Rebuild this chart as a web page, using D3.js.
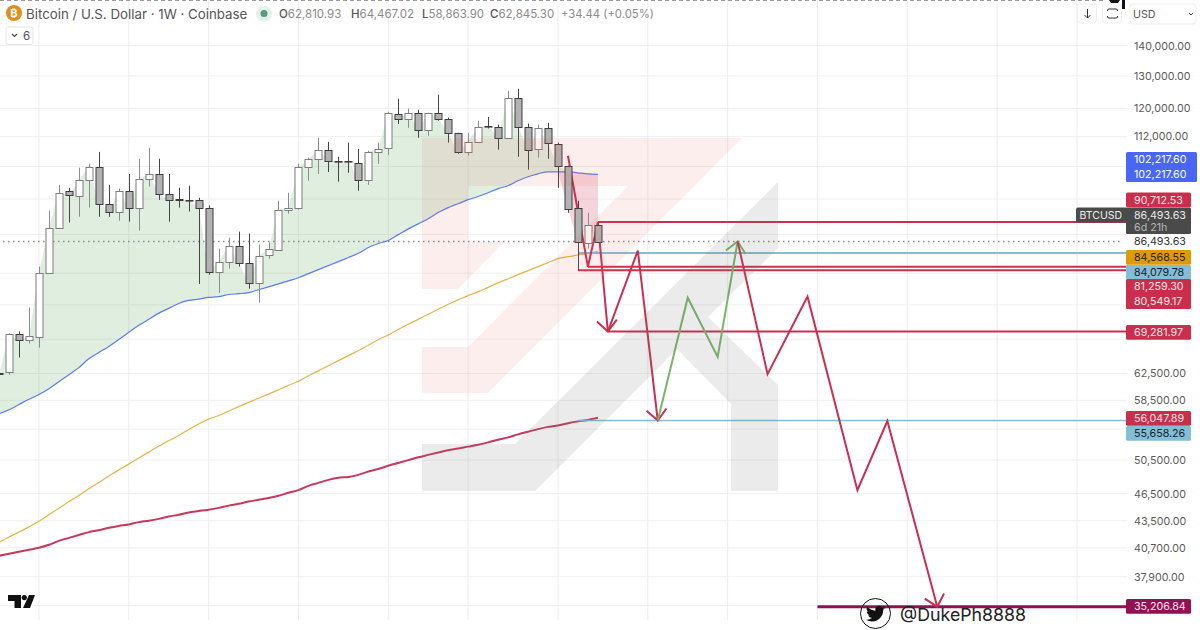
<!DOCTYPE html>
<html>
<head>
<meta charset="utf-8">
<script src="https://cdn.jsdelivr.net/npm/d3@7"></script>
<style>
  html, body { margin: 0; padding: 0; background: #fff; }
  svg { display: block; }
  text { font-family: Inter, "Noto Sans", sans-serif; }
</style>
</head>
<body>
<svg id="chart"></svg>
<script>
// weekly candles, first one is mostly cut off by the left edge
var opens = [62500, 62600, 68800, 67800, 68500, 80100, 89500, 97800, 96800, 100600, 103900, 94900, 93100, 98000, 94000, 100900, 102100, 97300, 96100, 95800, 95800, 94000, 80300, 82300, 85600, 82100, 78100, 83500, 84800, 93500, 94000, 103900, 106000, 108400, 105500, 105450, 105000, 100600, 107800, 108900, 118400, 117000, 118700, 113900, 118700, 117000, 113000, 107800, 110500, 115000, 114700, 111600, 123200, 114700, 108400, 114200, 110000, 104200, 93800, 86300, 90100];
var highs = [63000, 69000, 69300, 73500, 81300, 93300, 99400, 98700, 103700, 104700, 107800, 99400, 98500, 102100, 106000, 108900, 106000, 102100, 98700, 99200, 96300, 94500, 85000, 87300, 88600, 88200, 85800, 86300, 95600, 97500, 104700, 106300, 111600, 110500, 106500, 110300, 108600, 108100, 110300, 119000, 122900, 119900, 119600, 118700, 124100, 117300, 113000, 113000, 116400, 117500, 115300, 125300, 125900, 115600, 115300, 115800, 110300, 104200, 95600, 92800, 90300];
var lows = [62200, 62300, 65000, 67300, 66600, 80100, 89200, 90600, 91900, 94000, 91900, 91900, 91000, 90800, 88800, 99000, 95800, 90800, 94000, 93100, 77900, 79700, 76200, 80900, 81300, 77000, 74400, 82900, 84800, 92600, 93500, 100400, 102100, 102600, 100200, 102400, 98000, 99400, 104700, 107000, 115500, 114400, 111600, 112200, 116400, 110300, 107300, 106800, 110300, 114200, 108400, 111400, 106500, 103200, 106300, 106000, 98700, 92800, 80500, 85000, 86300];
var closes = [62400, 68800, 67800, 68500, 80100, 89500, 97500, 96800, 100600, 103900, 94900, 93100, 98000, 94000, 100900, 102100, 97300, 95800, 95800, 95750, 94000, 80300, 82300, 85600, 82100, 78100, 83500, 84800, 93500, 94000, 103900, 106000, 108400, 105500, 105450, 105400, 100600, 107800, 108600, 118700, 117000, 118700, 113900, 118700, 117000, 113000, 107800, 110500, 114700, 114900, 111600, 123200, 114700, 108400, 114200, 110000, 104200, 93800, 86300, 90100, 86493.63];

// moving averages, one value per candle
var maBlue = [56600, 57150, 57900, 58650, 59350, 60200, 61250, 62300, 63400, 64800, 65800, 66800, 67950, 69150, 70350, 71400, 72500, 73350, 74250, 74800, 75050, 75350, 75500, 75900, 76050, 76250, 76800, 77350, 77900, 78500, 79100, 79900, 80700, 81500, 82300, 83150, 84000, 85200, 86050, 86700, 87950, 89200, 90300, 91450, 92850, 94000, 94900, 95850, 96600, 97500, 98500, 99200, 100400, 101400, 102150, 102650, 102650, 102650, 102400, 102150, 102000];
var maYellow = [41250, 41800, 42300, 42850, 43450, 44150, 44850, 45600, 46300, 47050, 47800, 48550, 49300, 50000, 50750, 51500, 52250, 52950, 53650, 54450, 55200, 55850, 56350, 56950, 57600, 58200, 58800, 59400, 60050, 60700, 61300, 62150, 62900, 63700, 64500, 65300, 66100, 67000, 67950, 68700, 69650, 70550, 71400, 72300, 73200, 74100, 74900, 75700, 76400, 77250, 78100, 78900, 79700, 80500, 81300, 82100, 82900, 83300, 83650, 84000, 84400];
var maRed = [39900, 40100, 40300, 40500, 40700, 41000, 41400, 41700, 42000, 42300, 42500, 42750, 42950, 43100, 43350, 43500, 43700, 43950, 44150, 44400, 44550, 44700, 44900, 45150, 45350, 45600, 45800, 46000, 46250, 46600, 46900, 47400, 47750, 48100, 48350, 48450, 48700, 49100, 49400, 49800, 50150, 50500, 50850, 51150, 51450, 51750, 51950, 52200, 52450, 52750, 53100, 53400, 53800, 54150, 54500, 54800, 55000, 55300, 55550, 55750, 56047.89];

// drawn projection, bar number and price
var redABars = [56, 58, 59, 60];
var redAPrices = [106800, 81259.3, 90712.53, 69281.97];
var redBBars = [60, 63, 65];
var redBPrices = [69281.97, 84568.55, 55658.26];
var greenBars = [65, 68, 71, 73];
var greenPrices = [55658.26, 75300, 65100, 86493.63];
var redCBars = [73, 76, 80, 85, 88, 93];
var redCPrices = [86493.63, 62400, 75500, 46900, 55600, 35206.84];

// horizontal levels
var levelPrices = [90712.53, 81259.3, 80549.17, 69281.97, 84079.78, 55658.26, 35206.84];
var levelStarts = [59, 58, 57, 60, 57, 57, 81];
var levelColors = ["#c9304f", "#c9304f", "#c9304f", "#c9304f", "#85bcd6", "#85bcd6", "#8f1254"];
var levelWidths = [2, 2, 2, 2, 2, 1.6, 3];

var priceTicks = [140000, 130000, 120000, 112000, 104000, 96000, 88000, 80000, 74000, 68000, 62500, 58500, 54500, 50500, 46500, 43500, 40700, 37900, 35300];
var hiddenTicks = [104000, 96000, 88000, 80000, 74000, 68000, 54500];
var gridBars = [3, 12, 20, 29, 38, 46, 55, 64, 72, 81, 90, 99, 107];

var lastPrice = 86493.63;

// price tags on the right, tops are fixed because they stack
var tagTexts = [["102,217.60", "102,217.60"], ["90,712.53"], ["86,493.63", "6d 21h"], ["84,568.55"], ["84,079.78"], ["81,259.30", "80,549.17"], ["69,281.97"], ["56,047.89"], ["55,658.26"], ["35,206.84"]];
var tagTops = [152, 192.5, 207.5, 250, 265, 279, 325, 411, 426, 599];
var tagColors = ["#4a66f5", "#c92f4c", "#4a4a4a", "#df9a0a", "#85bcd6", "#c92f4c", "#c92f4c", "#c92f4c", "#85bcd6", "#8f1254"];
var tagInk = ["#fff", "#fbe4e8", "#e8e8e8", "#2a2000", "#10242e", "#fbe4e8", "#fbe4e8", "#fbe4e8", "#10242e", "#fbe4e8"];

var width = 1200, height = 630, paneRight = 1127, paneBottom = 620;
var axisFont = "10.7px";

var svg = d3.select("#chart").attr("width", width).attr("height", height);

svg.append("defs").append("clipPath").attr("id", "pane")
  .append("rect").attr("x", 0).attr("y", 0).attr("width", paneRight).attr("height", paneBottom);

var x = d3.scaleLinear().domain([-1, 107]).range([-1, 1077]);
var y = d3.scaleLog().domain([35206.84, 140000]).range([606.7, 45.7]);

var bars = d3.range(opens.length).map(function(i) { return i - 1; });

var pane = svg.append("g").attr("clip-path", "url(#pane)");

// grid
pane.selectAll(".hgrid").data(priceTicks).enter().append("line")
  .attr("x1", 0).attr("x2", paneRight)
  .attr("y1", d => y(d)).attr("y2", d => y(d))
  .attr("stroke", "#f0f0f1").attr("stroke-width", 1);
pane.selectAll(".vgrid").data(gridBars).enter().append("line")
  .attr("x1", d => x(d)).attr("x2", d => x(d))
  .attr("y1", 0).attr("y2", paneBottom)
  .attr("stroke", "#ededee").attr("stroke-width", 1);

// dashed top border
svg.append("line").attr("x1", 0).attr("x2", 1106).attr("y1", 0.5).attr("y2", 0.5)
  .attr("stroke", "#999").attr("stroke-dasharray", "4 3");

// fill between close and the blue average
var idx = d3.range(bars.length);
var areaUp = d3.area().x(i => x(bars[i])).y0(i => y(maBlue[i])).y1(i => y(Math.max(closes[i], maBlue[i])));
var areaDown = d3.area().x(i => x(bars[i])).y0(i => y(maBlue[i])).y1(i => y(Math.min(closes[i], maBlue[i])));
pane.append("path").attr("d", areaUp(idx)).attr("fill", "rgba(76,160,80,0.18)");
pane.append("path").attr("d", areaDown(idx)).attr("fill", "rgba(204,46,74,0.2)");

// averages
var maLine = function(values) {
  return d3.line().x((d, i) => x(bars[i])).y(d => y(d)).curve(d3.curveMonotoneX)(values);
};
pane.append("path").attr("d", maLine(maBlue)).attr("fill", "none").attr("stroke", "#5b7cf0").attr("stroke-width", 1.2);
pane.append("path").attr("d", maLine(maYellow)).attr("fill", "none").attr("stroke", "#e8b24a").attr("stroke-width", 1.2);
pane.append("path").attr("d", maLine(maRed)).attr("fill", "none").attr("stroke", "#c8385a").attr("stroke-width", 2);

// last price dotted line
var dotY = Math.round(y(lastPrice)) + 0.5;
pane.append("line").attr("x1", 3).attr("x2", paneRight - 4)
  .attr("y1", dotY).attr("y2", dotY)
  .attr("stroke", "#8a8a8a").attr("stroke-width", 1.5).attr("stroke-dasharray", "1.5 3.5");

// levels
pane.selectAll(".level").data(levelPrices).enter().append("line")
  .attr("x1", (d, i) => x(levelStarts[i])).attr("x2", paneRight)
  .attr("y1", d => y(d)).attr("y2", d => y(d))
  .attr("stroke", (d, i) => levelColors[i]).attr("stroke-width", (d, i) => levelWidths[i]);

// arrow heads
var defs = svg.select("defs");
[["headRed", "#c9304f"], ["headGreen", "#7ab56a"]].forEach(function(h) {
  defs.append("marker").attr("id", h[0]).attr("markerUnits", "userSpaceOnUse")
    .attr("viewBox", "-16 -12 18 24").attr("refX", 0).attr("refY", 0)
    .attr("markerWidth", 18).attr("markerHeight", 24).attr("orient", "auto")
    .append("path").attr("d", "M-11,-10L0,0L-11,10").attr("fill", "none")
    .attr("stroke", h[1]).attr("stroke-width", 2);
});

// projection lines
function drawProjection(barList, prices, color, head) {
  var pts = barList.map(function(b, i) { return [x(b), y(prices[i])]; });
  pane.append("path").attr("d", d3.line()(pts)).attr("fill", "none")
    .attr("stroke", color).attr("stroke-width", 2).attr("stroke-linejoin", "miter")
    .attr("marker-end", "url(#" + head + ")");
}
drawProjection(redABars, redAPrices, "#c9304f", "headRed");
drawProjection(redBBars, redBPrices, "#c9304f", "headRed");
drawProjection(greenBars, greenPrices, "#7ab56a", "headGreen");
drawProjection(redCBars, redCPrices, "#c9304f", "headRed");

// candles
var candles = pane.append("g").selectAll("g").data(idx).enter().append("g");
candles.append("line")
  .attr("x1", i => Math.round(x(bars[i])) + 0.5).attr("x2", i => Math.round(x(bars[i])) + 0.5)
  .attr("y1", i => y(highs[i])).attr("y2", i => y(lows[i]))
  .attr("stroke", i => closes[i] >= opens[i] ? "#8c8c8c" : "#454545").attr("stroke-width", 1);
candles.append("rect")
  .attr("x", i => Math.round(x(bars[i])) - 3)
  .attr("width", 7)
  .attr("y", i => Math.round(y(Math.max(opens[i], closes[i]))) + 0.5)
  .attr("height", i => Math.max(0.6, Math.round(Math.abs(y(opens[i]) - y(closes[i])))))
  .attr("fill", i => closes[i] >= opens[i] ? "#fff" : "#b2b2b2")
  .attr("stroke", i => closes[i] >= opens[i] ? "#7d7d7d" : "#3c3c3c").attr("stroke-width", 1);

// watermark logo on top of everything
svg.append("path")
  .attr("d", "M422,138L742,138L488,393L422,393L422,347L468,347L628,186L468,186L468,242L504,242L458,289L422,289Z")
  .attr("fill", "rgba(232,90,90,0.1)");
svg.append("path")
  .attr("d", "M422,444L515,444L778,182L778,248L708,317L778,385L778,491L731,491L731,404L677,349L535,491L422,491Z")
  .attr("fill", "rgba(110,110,110,0.14)");

// price axis
var axis = d3.axisRight(y).tickValues(priceTicks.filter(d => hiddenTicks.indexOf(d) < 0))
  .tickFormat(d3.format(",.2f")).tickSize(0).tickPadding(0);
var axisG = svg.append("g").attr("transform", "translate(1134,0)").call(axis);
axisG.select(".domain").remove();
axisG.selectAll("text").attr("fill", "#5a5a5a").style("font-size", axisFont);

// plain last price text
svg.append("text").attr("x", 1134).attr("y", y(lastPrice) + 4).attr("fill", "#333")
  .style("font-size", axisFont).text("86,493.63");

// tags
tagTexts.forEach(function(lines, i) {
  var w = i === 0 ? 71 : 65;
  svg.append("rect").attr("x", 1126).attr("y", tagTops[i]).attr("width", w)
    .attr("height", lines.length === 1 ? 14.8 : (i === 2 ? 26.5 : 30)).attr("rx", 1.5)
    .attr("fill", tagColors[i]);
  lines.forEach(function(t, k) {
    svg.append("text").attr("x", 1134)
      .attr("y", tagTops[i] + 11.2 + k * (i === 2 ? 12 : 14.7))
      .attr("fill", i === 2 && k === 1 ? "#b5b5b5" : tagInk[i])
      .style("font-size", axisFont).text(t);
  });
});

// symbol tab next to the last price
svg.append("rect").attr("x", 1076).attr("y", 207.5).attr("width", 52).attr("height", 15).attr("rx", 2).attr("fill", "#4a4a4a");
svg.append("text").attr("x", 1079.5).attr("y", 218.8).attr("fill", "#eee").style("font-size", "10.5px").text("BTCUSD");

// header
svg.append("circle").attr("cx", 14).attr("cy", 13).attr("r", 8).attr("fill", "#e08e1e");
svg.append("text").attr("x", 14).attr("y", 17).attr("text-anchor", "middle").attr("fill", "#fff")
  .style("font-size", "11px").style("font-weight", 700).text("₿");
svg.append("text").attr("x", 26).attr("y", 18.5).attr("fill", "#555").style("font-size", "13.3px").text("Bitcoin / U.S. Dollar · 1W · Coinbase");
svg.append("circle").attr("cx", 264).attr("cy", 13.5).attr("r", 8).attr("fill", "#e4f0ea");
svg.append("circle").attr("cx", 264).attr("cy", 13.5).attr("r", 3.5).attr("fill", "#5a9a7c");

var ohlcNames = ["O", "H", "L", "C"];
var ohlcValues = ["62,810.93", "64,467.02", "58,863.90", "62,845.30"];
var ohlcX = [279, 351, 422, 490];
ohlcNames.forEach(function(n, i) {
  var t = svg.append("text").attr("x", ohlcX[i]).attr("y", 18).style("font-size", "11.5px").attr("fill", "#555");
  t.append("tspan").style("font-weight", 500).text(n);
  t.append("tspan").attr("fill", "#8a8a8a").text(ohlcValues[i]);
});
svg.append("text").attr("x", 561).attr("y", 18).style("font-size", "11.3px").attr("fill", "#8a8a8a").text("+34.44 (+0.05%)");

// collapsed indicators button
svg.append("rect").attr("x", 6).attr("y", 27).attr("width", 27).attr("height", 17.5).attr("rx", 2.5)
  .attr("fill", "#fff").attr("stroke", "#e6e6e6");
svg.append("path").attr("d", "M12,34L14.5,36.5L17,34").attr("fill", "none").attr("stroke", "#444").attr("stroke-width", 1.1);
svg.append("text").attr("x", 23).attr("y", 40).attr("fill", "#555").style("font-size", "11.5px").text("6");

// top right buttons
svg.append("rect").attr("x", 1077.5).attr("y", 4).attr("width", 19).attr("height", 19).attr("rx", 3).attr("fill", "#fff").attr("stroke", "#efefef");
svg.append("path").attr("d", "M1087.5,9V18M1084.5,15L1087.5,18L1090.5,15").attr("fill", "none").attr("stroke", "#333").attr("stroke-width", 1);
svg.append("rect").attr("x", 1102.5).attr("y", 4).attr("width", 19).attr("height", 19).attr("rx", 3).attr("fill", "#fff").attr("stroke", "#efefef");
svg.append("path").attr("d", "M1107.5,11V10Q1107.5,9 1109,9H1116Q1117.5,9 1117.5,10V11M1107.5,16V17Q1107.5,18 1109,18H1116Q1117.5,18 1117.5,17V16")
  .attr("fill", "none").attr("stroke", "#333").attr("stroke-width", 1);
svg.append("path").attr("d", "M1109,0H1120L1118,3H1111ZM1122,0H1125V9H1122Z").attr("fill", "#111");
svg.append("rect").attr("x", 1130).attr("y", 4).attr("width", 66).attr("height", 20).attr("rx", 3).attr("fill", "#fff").attr("stroke", "#efefef");
svg.append("text").attr("x", 1133).attr("y", 18).attr("fill", "#555").style("font-size", "10.7px").text("USD");
svg.append("path").attr("d", "M1189,13L1191,15L1193,13").attr("fill", "none").attr("stroke", "#444").attr("stroke-width", 1);

// tradingview mark
svg.append("path").attr("d", "M8,595H21V608H14.5V601H8ZM29,595H35L30,608H23Z").attr("fill", "#111");
svg.append("circle").attr("cx", 24.3).attr("cy", 597.6).attr("r", 2.6).attr("fill", "#111");

// twitter handle
svg.append("circle").attr("cx", 875.5).attr("cy", 613.5).attr("r", 15).attr("fill", "none").attr("stroke", "#111").attr("stroke-width", 1);
svg.append("path")
  .attr("d", "M23.95 4.57a10 10 0 0 1-2.82.77 4.96 4.96 0 0 0 2.16-2.72 9.9 9.9 0 0 1-3.13 1.18 4.92 4.92 0 0 0-8.38 4.49A13.98 13.98 0 0 1 1.64 3.16a4.92 4.92 0 0 0 1.52 6.57 4.9 4.9 0 0 1-2.23-.61v.06a4.92 4.92 0 0 0 3.95 4.83 4.99 4.99 0 0 1-2.21.08 4.93 4.93 0 0 0 4.6 3.42A9.87 9.87 0 0 1 0 19.54a13.94 13.94 0 0 0 7.55 2.21c9.05 0 14-7.5 14-13.98 0-.21 0-.42-.02-.63A9.94 9.94 0 0 0 24 4.59z")
  .attr("transform", "translate(866,604) scale(0.8)").attr("fill", "#111");
svg.append("text").attr("x", 900).attr("y", 621).attr("fill", "#222").style("font-size", "17.8px").text("@DukePh8888");
</script>
</body>
</html>
